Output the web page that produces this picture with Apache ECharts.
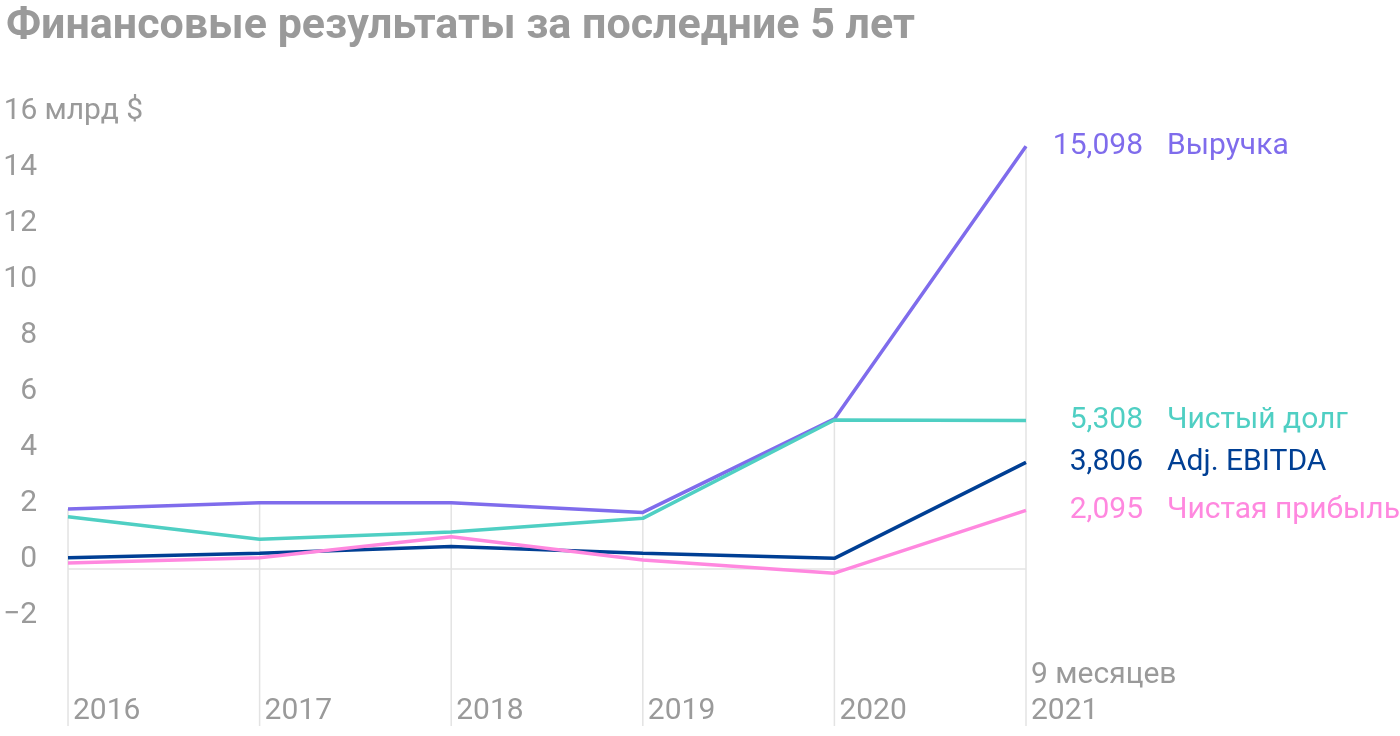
<!DOCTYPE html>
<html><head><meta charset="utf-8">
<script src="https://cdn.jsdelivr.net/npm/echarts@6/dist/echarts.min.js"></script>
<style>html,body{margin:0;padding:0;background:#fff}#c{width:1400px;height:736px}</style>
</head><body><div id="c"></div>
<script>
const years = ['2016','2017','2018','2019','2020','2021'];
const revenue   = [2.14, 2.37, 2.37, 2.02, 5.36, 15.098];
const netDebt   = [1.87, 1.06, 1.32, 1.81, 5.32, 5.308];
const ebitda    = [0.40, 0.56, 0.80, 0.56, 0.38, 3.806];
const netProfit = [0.21, 0.40, 1.15, 0.32, -0.15, 2.095];
const seriesNames = ['Выручка', 'Чистый долг', 'Adj. EBITDA', 'Чистая прибыль'];
const colors = ['#7f6cec', '#4fcfc3', '#003f94', '#ff88df'];

const FONT = 'Roboto';
const chart = echarts.init(document.getElementById('c'));

function fmt(v){ return v.toFixed(3).replace('.', ','); }

function lineSeries(name, data, color, extra){
  const last = data.length - 1;
  const s = {
    name, type: 'line', data, symbol: 'none', z: 3,
    lineStyle: { width: 3.5, color },
    itemStyle: { color },
    endLabel: {
      show: true, distance: 117, align: 'right', verticalAlign: 'middle',
      formatter: p => fmt(p.value),
      fontSize: 30, fontFamily: FONT, color
    },
    markPoint: {
      silent: true, symbol: 'circle', symbolSize: 0,
      data: [{ coord: [last, data[last]] }],
      label: {
        show: true, position: 'right', distance: 141,
        formatter: () => name,
        fontSize: 30, fontFamily: FONT, color
      }
    }
  };
  return Object.assign(s, extra || {});
}

chart.setOption({
  animation: false,
  title: {
    text: 'Финансовые результаты за последние 5 лет',
    left: 1, top: 1,
    textStyle: { fontFamily: FONT, fontWeight: 'bold', fontSize: 43, color: '#9a9a9a' }
  },
  grid: { left: 66, right: 374, top: 121, bottom: 111 },
  xAxis: {
    type: 'category', boundaryGap: false, data: years,
    axisLine: { show: false }, axisTick: { show: false }, splitLine: { show: false },
    axisLabel: {
      margin: 104, align: 'left', verticalAlign: 'bottom', padding: [0,0,0,5],
      fontFamily: FONT, fontSize: 30, color: '#9a9a9a', lineHeight: 36,
      formatter: v => v === '2021' ? '9 месяцев\n2021' : v
    }
  },
  yAxis: {
    type: 'value', min: -2, max: 16, interval: 2,
    axisLine: { show: false }, axisTick: { show: false }, splitLine: { show: false },
    axisLabel: {
      margin: 64, align: 'left', verticalAlign: 'bottom', lineHeight: 20,
      formatter: v => v === 16 ? '{n|16}{u| млрд $}' : '{n|' + (v < 0 ? '\u2212' + Math.abs(v) : v) + '}',
      rich: {
        n: { width: 33, align: 'right', fontFamily: FONT, fontSize: 30, color: '#9a9a9a', lineHeight: 20 },
        u: { fontFamily: FONT, fontSize: 30, color: '#9a9a9a', lineHeight: 20 }
      }
    }
  },
  series: [
    {
      type: 'custom', z: 1, silent: true, clip: false,
      data: revenue.map((v, i) => [i, Math.max(v, netDebt[i], ebitda[i], netProfit[i])]),
      renderItem: (params, api) => {
        const p = api.coord([api.value(0), api.value(1)]);
        const bottom = params.coordSys.y + params.coordSys.height + 101;
        return { type: 'line', shape: { x1: p[0], y1: p[1], x2: p[0], y2: bottom },
                 style: { stroke: '#e3e3e3', lineWidth: 1.5 } };
      }
    },
    lineSeries(seriesNames[0], revenue, colors[0], {
      markLine: { silent: true, symbol: 'none', label: { show: false }, z: 1,
        lineStyle: { color: '#e3e3e3', width: 1.5, type: 'solid' }, data: [{ yAxis: 0 }] }
    }),
    lineSeries(seriesNames[1], netDebt, colors[1]),
    lineSeries(seriesNames[2], ebitda, colors[2]),
    lineSeries(seriesNames[3], netProfit, colors[3])
  ]
});
</script></body></html>
